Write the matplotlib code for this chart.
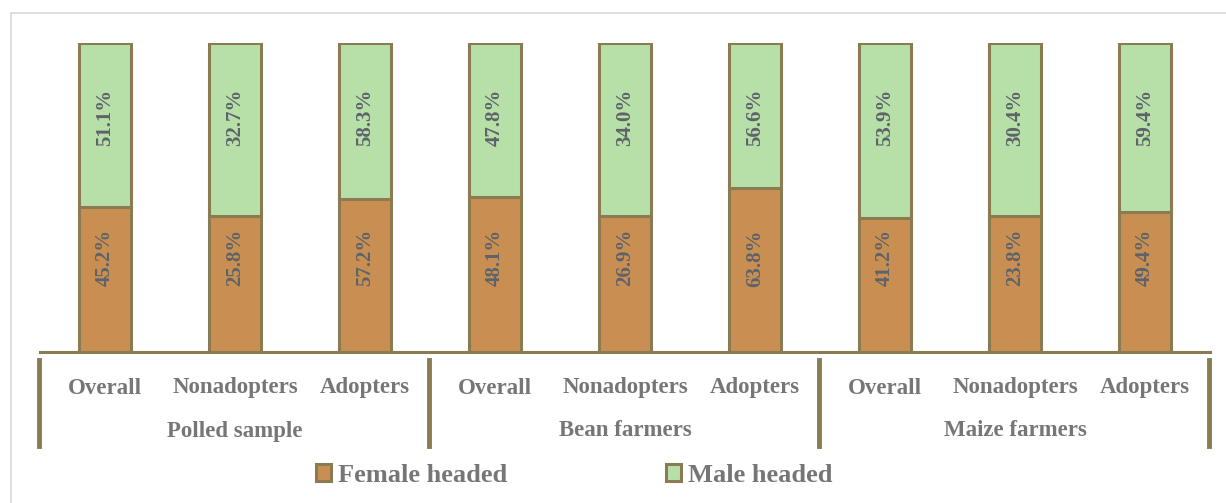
import matplotlib.pyplot as plt
import numpy as np
from matplotlib.patches import Rectangle
from matplotlib.lines import Line2D

grupos = ["Polled sample", "Bean farmers", "Maize farmers"]
subcategorias = ["Overall", "Nonadopters", "Adopters"]
female = [45.2, 25.8, 57.2, 48.1, 26.9, 63.8, 41.2, 23.8, 49.4]
male = [51.1, 32.7, 58.3, 47.8, 34.0, 56.6, 53.9, 30.4, 59.4]

cor_fem = '#C98F52'
cor_masc = '#B7E0A8'
cor_borda = '#8A7B53'
cor_texto = '#767676'
cor_valor = '#5E636A'

plt.rcParams['font.family'] = ['Liberation Serif', 'DejaVu Serif']

fig = plt.figure(figsize=(12.26, 5.03), dpi=100)
W, H = 1226, 503
ax = fig.add_axes([40 / W, 1 - 352 / H, 1170 / W, 309 / H])

fem = np.array(female)
mas = np.array(male)
total = fem + mas
f_frac = fem / total
m_frac = mas / total
x = np.arange(len(female))

ax.bar(x, f_frac, width=0.4, color=cor_fem, edgecolor=cor_borda, linewidth=2.2, zorder=3)
ax.bar(x, m_frac, width=0.4, bottom=f_frac, color=cor_masc, edgecolor=cor_borda,
       linewidth=2.2, zorder=3)

# os rotulos no original ficam numa altura quase fixa dentro de cada faixa
for i in range(len(x)):
    ax.text(x[i], 0.305, f'{female[i]:.1f}%', rotation=90, ha='center', va='center',
            fontsize=15, fontweight='bold', color=cor_valor, zorder=4)
    ax.text(x[i], 0.76, f'{male[i]:.1f}%', rotation=90, ha='center',
            va='center', fontsize=15, fontweight='bold', color=cor_valor, zorder=4)

ax.set_xlim(-0.5, len(x) - 0.5)
ax.set_ylim(0, 1)
ax.axis('off')
ax.axhline(0, color=cor_borda, linewidth=2.2, zorder=5, clip_on=False)

# rotulos do eixo x (duas linhas) e separadores
for i in range(len(x)):
    fig.text((40 + 65 + 130 * i) / W, 1 - 388 / H, subcategorias[i % 3], ha='center', va='center',
             fontsize=16.5, fontweight='bold', color=cor_texto)
for g in range(len(grupos)):
    fig.text((40 + 195 + 390 * g) / W, 1 - 431 / H, grupos[g], ha='center', va='center',
             fontsize=16.5, fontweight='bold', color=cor_texto)
for g in range(len(grupos) + 1):
    xs = (38.5 + 390 * g) / W
    fig.add_artist(Line2D([xs, xs], [1 - 360 / H, 1 - 446 / H], color=cor_borda, linewidth=3.5))

# moldura cinza
fig.add_artist(Line2D([10.5 / W, 10.5 / W], [0, 1 - 13 / H], color='#D9D9D9', linewidth=1.2))
fig.add_artist(Line2D([10.5 / W, 1], [1 - 13 / H, 1 - 13 / H], color='#D9D9D9', linewidth=1.2))

handles = [Rectangle((0, 0), 1, 1, facecolor=cor_fem, edgecolor=cor_borda, linewidth=2.2),
           Rectangle((0, 0), 1, 1, facecolor=cor_masc, edgecolor=cor_borda, linewidth=2.2)]
leg = fig.legend(handles, ['Female headed', 'Male headed'], loc='center',
                 bbox_to_anchor=(574 / W, 1 - 475 / H), ncol=2, frameon=False,
                 handlelength=0.6, handleheight=0.6, handletextpad=0.25, columnspacing=6.0,
                 prop={'size': 19, 'weight': 'bold'})
for t in leg.get_texts():
    t.set_color(cor_texto)

fig.savefig('out.png', dpi=100)
